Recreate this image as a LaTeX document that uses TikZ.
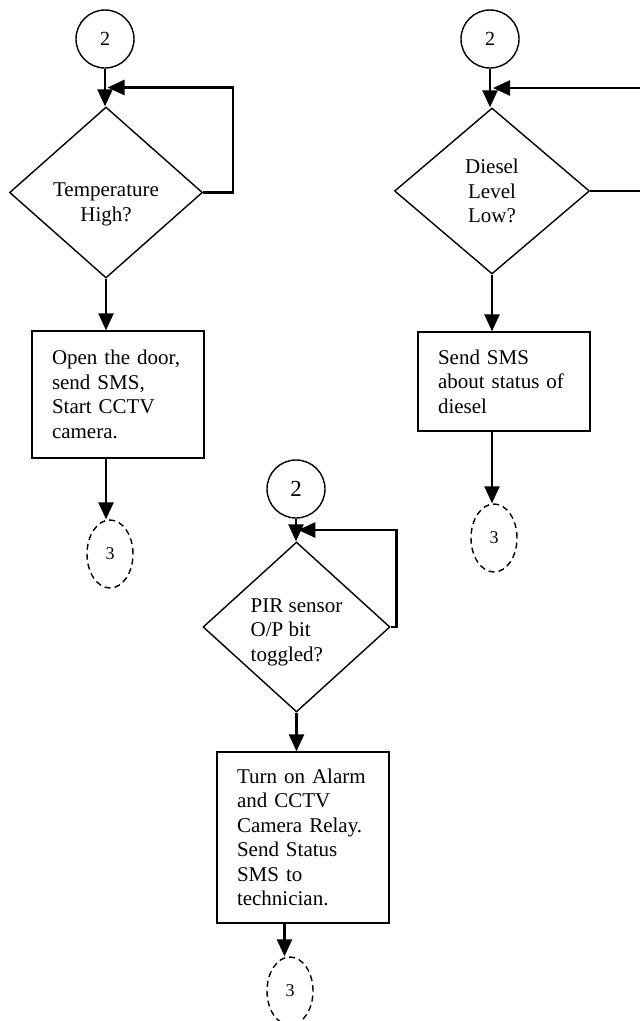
\documentclass[tikz,border=0pt]{standalone}
\usepackage{fontspec}
\setmainfont{Liberation Serif}
\usetikzlibrary{shapes.geometric, arrows.meta, positioning, calc}

\begin{document}
\begin{tikzpicture}[
    x=1pt, y=-1pt,
    decision/.style={diamond, draw, line width=1.4pt, inner sep=0pt, align=center,
        text=black, font=\fontsize{21}{24.5}\selectfont},
    process/.style={rectangle, draw, line width=1.4pt, inner sep=0pt, align=left,
        text width=132pt, minimum width=172pt, font=\fontsize{21}{24.5}\selectfont},
    connector/.style={circle, draw, line width=1.4pt, minimum size=58pt, inner sep=0pt,
        font=\fontsize{20}{24}\selectfont},
    offpage/.style={ellipse, draw, dash pattern=on 6pt off 4pt, line width=1.4pt,
        minimum width=46pt, minimum height=68pt, inner sep=0pt,
        font=\fontsize{18}{21}\selectfont},
    flow/.style={line width=2.5pt, -{Triangle[length=17pt, width=15pt]}},
    line/.style={line width=2.5pt}
]

    \useasboundingbox (0,0) rectangle (640,1021);
    \clip (0,0) rectangle (640,1021);

    % Nodes ------------------------------------------------------

    \node[connector] (c1) at (105,39) {2};
    \node[decision, minimum width=193pt, minimum height=171pt,
        label={[align=center, font=\fontsize{21}{24.5}\selectfont, yshift=-12pt]center:Temperature\\High?}]
        (d1) at (106,192.5) {};
    \node[process, minimum height=127pt] (b1) at (118,394.5) {Open the door,\\send SMS,\\Start CCTV\\camera.};
    \node[offpage] (o1) at (110,554) {3};

    \node[connector] (c2) at (490,39) {2};
    \node[decision, minimum width=195pt, minimum height=166pt] (d2) at (492,191) {Diesel\\Level\\Low?};
    \node[process, minimum height=99pt] (b2) at (504,381.5) {Send SMS\\about status of\\diesel};
    \node[offpage] (o2) at (494,538) {3};

    \node[connector, font=\fontsize{23}{26}\selectfont] (c3) at (296,489) {2};
    \node[decision, minimum width=187pt, minimum height=170pt,
        label={[align=left, font=\fontsize{21}{24.5}\selectfont, yshift=-5pt]center:PIR sensor\\O/P bit\\toggled?}]
        (d3) at (296.5,627) {};
    \node[process, minimum height=171pt] (b3) at (303,837.5) {Turn on Alarm\\and CCTV\\Camera Relay.\\Send Status\\SMS to\\technician.};
    \node[offpage] (o3) at (290,991) {3};

    \coordinate (j1) at ($(c1.south)!0.5!(d1.north)$);
    \coordinate (j2) at ($(c2.south)!0.5!(d2.north)$);
    \coordinate (j3) at ($(c3.south)!0.5!(d3.north)$);

    % Connectors -------------------------------------------------

    \draw[flow] (c1.south) -- (c1.south |- d1.north);
    \draw[flow] (d1.east) -- ++(30,0) |- ([xshift=2pt]j1);
    \draw[flow] (d1.south) -- (d1.south |- b1.north);
    \draw[flow] (b1.south -| d1.south) -- (d1.south |- o1.north);

    \draw[flow] (c2.south) -- (c2.south |- d2.north);
    \draw[flow] (d2.east) -- ++(70,0) |- ([xshift=2pt]j2);
    \draw[flow] (d2.south) -- (d2.south |- b2.north);
    \draw[flow] (b2.south -| d2.south) -- (d2.south |- o2.north);

    \draw[flow] (c3.south) -- (c3.south |- d3.north);
    \draw[flow] (d3.east) -- ++(6,0) |- ([xshift=2pt]j3);
    \draw[flow] (d3.south) -- (d3.south |- b3.north);
    \draw[flow] ([xshift=-12pt]b3.south -| d3.south) -- ([xshift=-12pt]d3.south |- o3.north);

\end{tikzpicture}
\end{document}
